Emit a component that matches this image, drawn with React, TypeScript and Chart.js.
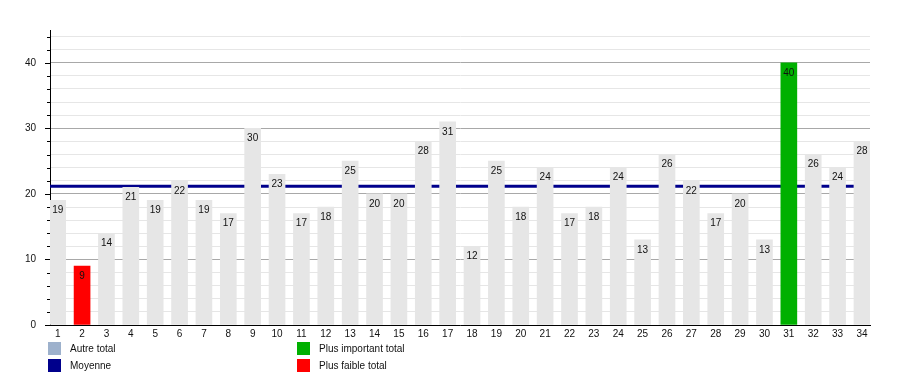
import React, { useEffect, useRef } from "react";
import { Chart, registerables } from "chart.js";

Chart.register(...registerables);

const categories: number[] = [1, 2, 3, 4, 5, 6, 7, 8, 9, 10, 11, 12, 13, 14, 15, 16, 17, 18, 19, 20, 21, 22, 23, 24, 25, 26, 27, 28, 29, 30, 31, 32, 33, 34];
const totals: number[] = [19, 9, 14, 21, 19, 22, 19, 17, 30, 23, 17, 18, 25, 20, 20, 28, 31, 12, 25, 18, 24, 17, 18, 24, 13, 26, 22, 17, 20, 13, 40, 26, 24, 28];
const yTickValues: number[] = [0, 10, 20, 30, 40];

const legendItems = [
  { label: "Autre total", color: "#9db1cc" },
  { label: "Moyenne", color: "#00008c" },
  { label: "Plus important total", color: "#00b000" },
  { label: "Plus faible total", color: "#ff0000" },
];

const FONT = "'Liberation Sans', Arial, sans-serif";
const FONT_SIZE = 10;
const TEXT = "#111";
const BAR_GRAY = "#e6e6e6";
const GREEN = "#00b000";
const RED = "#ff0000";
const NAVY = "#00008c";

export default function App() {
  const ref = useRef<HTMLCanvasElement | null>(null);

  useEffect(() => {
    if (!ref.current) return;
    const maxV = Math.max(...totals);
    const minV = Math.min(...totals);
    const mean = totals.reduce((a, b) => a + b, 0) / totals.length;
    const colors = totals.map((v) => (v === maxV ? GREEN : v === minV ? RED : BAR_GRAY));

    const meanPlugin = {
      id: "meanLine",
      beforeDatasetsDraw(chart: any) {
        const { ctx, chartArea, scales } = chart;
        const y = scales.y.getPixelForValue(mean);
        ctx.save();
        ctx.strokeStyle = NAVY;
        ctx.lineWidth = 3;
        ctx.beginPath();
        ctx.moveTo(chartArea.left, y);
        ctx.lineTo(chartArea.right, y);
        ctx.stroke();
        ctx.restore();
      },
      afterDatasetsDraw(chart: any) {
        const { ctx } = chart;
        const meta = chart.getDatasetMeta(0);
        ctx.save();
        ctx.font = `${FONT_SIZE}px ${FONT}`;
        ctx.fillStyle = TEXT;
        ctx.textAlign = "center";
        ctx.textBaseline = "middle";
        meta.data.forEach((el: any, i: number) => {
          ctx.fillText(String(totals[i]), el.x, el.y + 10);
        });
        ctx.restore();
      },
      afterDraw(chart: any) {
        const { ctx, scales } = chart;
        const ys = scales.y;
        const left = chart.chartArea.left;
        ctx.save();
        ctx.strokeStyle = "#000";
        ctx.lineWidth = 1;
        for (let v = 0; v <= 44; v += 2) {
          const y = Math.round(ys.getPixelForValue(v)) + 0.5;
          const len = v % 10 === 0 ? 5 : 3;
          ctx.beginPath();
          ctx.moveTo(left - len, y);
          ctx.lineTo(left, y);
          ctx.stroke();
        }
        ctx.restore();
      },
    };

    const chart = new Chart(ref.current, {
      type: "bar",
      data: {
        datasets: [
          {
            data: categories.map((c, i) => ({ x: c, y: totals[i] })),
            backgroundColor: colors,
            borderWidth: 0,
            barThickness: 16,
          },
        ],
      },
      options: {
        animation: false,
        responsive: false,
        maintainAspectRatio: false,
        layout: { padding: { top: 30, right: 30, left: 0, bottom: 0 } },
        plugins: { legend: { display: false }, tooltip: { enabled: false } },
        scales: {
          x: {
            type: "linear",
            offset: false,
            min: 0.684,
            max: 34.33,
            afterBuildTicks: (scale: any) => {
              scale.ticks = categories.map((c) => ({ value: c }));
            },
            afterFit: (scale: any) => {
              scale.height = 50;
            },
            grid: { display: false, drawTicks: false, offset: false },
            border: { display: true, color: "#000", width: 1 },
            ticks: {
              autoSkip: false,
              maxRotation: 0,
              padding: 3,
              color: TEXT,
              font: { family: FONT, size: FONT_SIZE },
              callback: (v: any) => String(v),
            },
          },
          y: {
            type: "linear",
            min: 0,
            max: 45,
            afterBuildTicks: (scale: any) => {
              const t = [];
              for (let v = 0; v <= 44; v += 2) t.push({ value: v });
              scale.ticks = t;
            },
            afterFit: (scale: any) => {
              scale.width = 50;
            },
            grid: {
              drawTicks: false,
              color: (c: any) => (c.tick && c.tick.value % 10 === 0 ? "#a8a8a8" : "#e6e6e6"),
            },
            border: { display: true, color: "#000", width: 1 },
            ticks: {
              autoSkip: false,
              padding: 14,
              color: TEXT,
              font: { family: FONT, size: FONT_SIZE },
              callback: (v: any) => (yTickValues.includes(Number(v)) ? String(v) : ""),
            },
          },
        },
      },
      plugins: [meanPlugin],
    } as any);
    return () => chart.destroy();
  }, []);

  const pos = [
    { left: 48, top: 342 },
    { left: 48, top: 359 },
    { left: 297, top: 342 },
    { left: 297, top: 359 },
  ];

  return (
    <div style={{ position: "fixed", left: 0, top: 0, width: 900, height: 375, background: "#fff" }}>
      <canvas ref={ref} width={900} height={375} style={{ position: "absolute", left: 0, top: 0 }} />
      {legendItems.map((it, i) => (
        <div key={it.label} style={{ position: "absolute", left: pos[i].left, top: pos[i].top, height: 13, display: "flex", alignItems: "center", fontFamily: FONT, fontSize: FONT_SIZE, color: TEXT, whiteSpace: "nowrap" }}>
          <span style={{ display: "inline-block", width: 13, height: 13, background: it.color, marginRight: 9 }} />
          <span>{it.label}</span>
        </div>
      ))}
    </div>
  );
}
